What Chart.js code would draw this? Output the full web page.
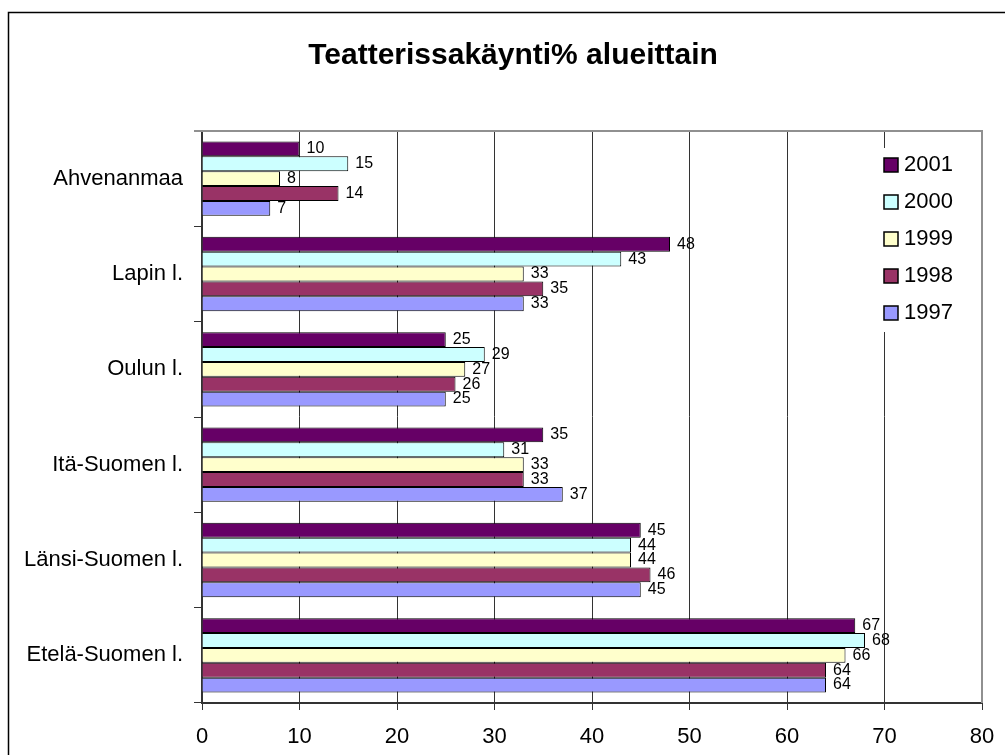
<!DOCTYPE html>
<html>
<head>
<meta charset="utf-8">
<script src="https://cdn.jsdelivr.net/npm/chart.js@4.4.1/dist/chart.umd.min.js"></script>
<style>
  html, body { margin: 0; padding: 0; background: #fff; }
  #wrap { width: 1005px; height: 755px; }
</style>
</head>
<body>
<div id="wrap"><canvas id="chart" width="1005" height="755"></canvas></div>
<script>
// alueet ylhäältä alas
const regions = ['Ahvenanmaa', 'Lapin l.', 'Oulun l.', 'Itä-Suomen l.', 'Länsi-Suomen l.', 'Etelä-Suomen l.'];
const years = ['2001', '2000', '1999', '1998', '1997'];

// teatterissakäynti% vuosittain
const v2001 = [10, 48, 25, 35, 45, 67];
const v2000 = [15, 43, 29, 31, 44, 68];
const v1999 = [8, 33, 27, 33, 44, 66];
const v1998 = [14, 35, 26, 33, 46, 64];
const v1997 = [7, 33, 25, 37, 45, 64];

const xMin = 0;
const xMax = 80;
const xStep = 10;

const titleText = 'Teatterissakäynti% alueittain';
const yearColors = ['#660066', '#CCFFFF', '#FFFFCC', '#993366', '#9999FF'];
const FONT = '"Liberation Sans", Arial, sans-serif';

const seriesValues = [v2001, v2000, v1999, v1998, v1997];

// kehys ja otsikko
const framePlugin = {
  id: 'frame',
  beforeDraw(chart) {
    const ctx = chart.ctx;
    ctx.save();
    ctx.strokeStyle = '#000';
    ctx.lineWidth = 1.5;
    ctx.strokeRect(8.5, 12.5, 2000, 2000);
    // otsikko keskitetään kehyksen mukaan, ei canvasin
    ctx.font = 'bold 30px ' + FONT;
    ctx.fillStyle = '#000';
    ctx.textAlign = 'center';
    ctx.textBaseline = 'middle';
    ctx.fillText(titleText, 513, 56);
    ctx.restore();
  }
};

// arvot palkkien perään + piirtoalueen reunat + selite
const extrasPlugin = {
  id: 'extras',
  afterDatasetsDraw(chart) {
    const ctx = chart.ctx;
    const area = chart.chartArea;
    ctx.save();

    // arvotunnisteet
    ctx.font = '16px ' + FONT;
    ctx.fillStyle = '#000';
    ctx.textAlign = 'left';
    ctx.textBaseline = 'middle';
    chart.data.datasets.forEach((ds, i) => {
      const meta = chart.getDatasetMeta(i);
      meta.data.forEach((bar, j) => {
        ctx.fillText(String(ds.data[j]), bar.x + 7, bar.y);
      });
    });

    // harmaa ylä- ja oikea reuna
    ctx.strokeStyle = '#909090';
    ctx.lineWidth = 2;
    ctx.beginPath();
    ctx.moveTo(area.left - 8, area.top);
    ctx.lineTo(area.right, area.top);
    ctx.lineTo(area.right, area.bottom);
    ctx.stroke();

    // selite
    const lx = area.right - 106;
    const ly = area.top + 17;
    ctx.fillStyle = '#fff';
    ctx.fillRect(lx, ly, 100, 184);
    ctx.font = '22px ' + FONT;
    chart.data.datasets.forEach((ds, i) => {
      const cy = ly + 17 + i * 37;
      ctx.fillStyle = ds.backgroundColor;
      ctx.fillRect(lx + 8, cy - 7, 14, 14);
      ctx.strokeStyle = '#000';
      ctx.lineWidth = 1.5;
      ctx.strokeRect(lx + 8, cy - 7, 14, 14);
      ctx.fillStyle = '#000';
      ctx.fillText(ds.label, lx + 28, cy);
    });

    ctx.restore();
  }
};

window.addEventListener('load', function() {
  const ctx = document.getElementById('chart').getContext('2d');
  new Chart(ctx, {
    type: 'bar',
    data: {
      labels: regions,
      datasets: years.map((y, i) => ({
        label: y,
        data: seriesValues[i],
        backgroundColor: yearColors[i],
        borderColor: '#000',
        borderWidth: 1,
        categoryPercentage: 0.78,
        barPercentage: 1.0
      }))
    },
    options: {
      indexAxis: 'y',
      responsive: false,
      animation: false,
      layout: { padding: { left: 0, right: 23, top: 131, bottom: 0 } },
      plugins: {
        legend: { display: false },
        tooltip: { enabled: false },
        title: { display: false }
      },
      scales: {
        x: {
          min: xMin,
          max: xMax,
          ticks: {
            stepSize: xStep,
            color: '#000',
            padding: 14,
            font: { family: FONT, size: 22 }
          },
          grid: {
            color: c => (c.tick && c.tick.value === xMax) ? '#909090' : '#333',
            tickColor: '#333',
            tickLength: 7,
            lineWidth: 1
          },
          border: { color: '#333', width: 2 },
          afterFit(scale) {
            scale.height = 52;
            scale.paddingLeft = 0;
            scale.paddingRight = 0;
          }
        },
        y: {
          ticks: {
            color: '#000',
            padding: 11,
            font: { family: FONT, size: 22 }
          },
          grid: {
            offset: true,
            drawOnChartArea: false,
            tickColor: '#333',
            tickLength: 8
          },
          border: { color: '#333', width: 2 },
          afterFit(scale) {
            scale.width = 202;
            scale.paddingTop = 0;
            scale.paddingBottom = 0;
          }
        }
      }
    },
    plugins: [framePlugin, extrasPlugin]
  });
});
</script>
</body>
</html>
